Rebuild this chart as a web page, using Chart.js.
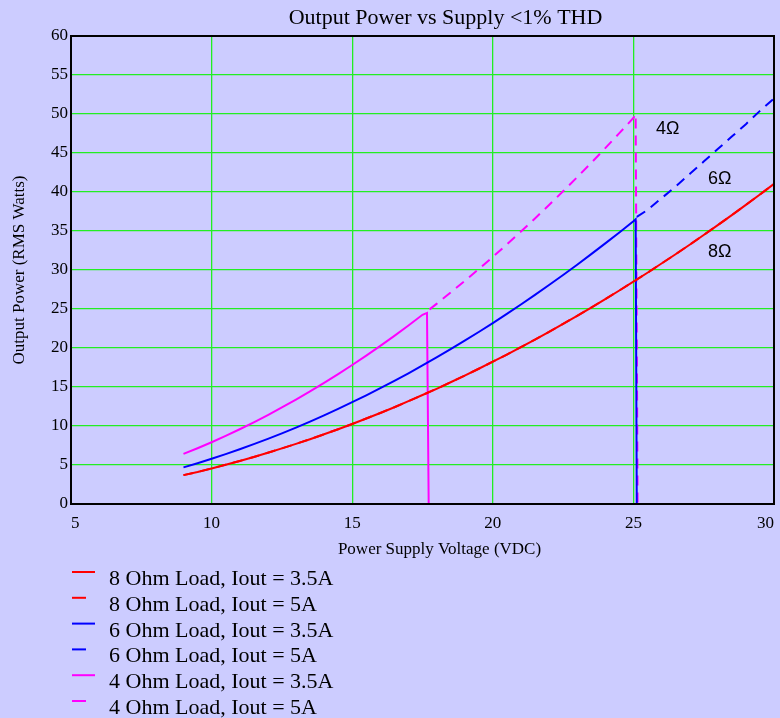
<!DOCTYPE html>
<html>
<head>
<meta charset="utf-8">
<script src="https://cdn.jsdelivr.net/npm/chart.js@4.4.1/dist/chart.umd.min.js"></script>
<style>
  html, body { margin: 0; padding: 0; background: #ccccff; }
  #wrap { width: 780px; height: 718px; }
</style>
</head>
<body>
<div id="wrap"><canvas id="chart" width="780" height="718"></canvas></div>
<script>
// supply voltage (VDC) and output power (W RMS) per load / current limit
const volts8 = [9, 9.5, 10, 10.5, 11, 11.5, 12, 12.5, 13, 13.5, 14, 14.5, 15, 15.5, 16, 16.5, 17, 17.5, 18, 18.5, 19, 19.5,
  20, 20.5, 21, 21.5, 22, 22.5, 23, 23.5, 24, 24.5, 25, 25.5, 26, 26.5, 27, 27.5, 28, 28.5, 29, 29.5, 30];
const watts8 = [3.7, 4.1, 4.56, 5.03, 5.52, 6.03, 6.57, 7.13, 7.71, 8.31, 8.94, 9.59, 10.26, 10.96, 11.67, 12.41, 13.18, 13.97, 14.77, 15.61, 16.46, 17.34,
  18.24, 19.16, 20.11, 21.08, 22.07, 23.09, 24.12, 25.18, 26.27, 27.37, 28.5, 29.65, 30.83, 32.02, 33.24, 34.49, 35.75, 37.04, 38.35, 39.68, 41.04];

const volts6a = [9, 9.5, 10, 10.5, 11, 11.5, 12, 12.5, 13, 13.5, 14, 14.5, 15, 15.5, 16, 16.5, 17, 17.5, 18, 18.5, 19, 19.5,
  20, 20.5, 21, 21.5, 22, 22.5, 23, 23.5, 24, 24.5, 25, 25.08, 25.12];
const watts6a = [4.7, 5.23, 5.8, 6.39, 7.02, 7.67, 8.35, 9.06, 9.8, 10.57, 11.37, 12.19, 13.05, 13.93, 14.85, 15.79, 16.76, 17.76, 18.79, 19.85, 20.94, 22.05,
  23.2, 24.37, 25.58, 26.81, 28.07, 29.36, 30.68, 32.03, 33.41, 34.81, 36.25, 36.5, 0];
const volts6b = [25.12, 25.5, 26, 26.5, 27, 27.5, 28, 28.5, 29, 29.5, 30];
const watts6b = [36.8, 37.7, 39.2, 40.7, 42.3, 43.9, 45.5, 47.1, 48.7, 50.4, 52.0];

const volts4a = [9, 9.5, 10, 10.5, 11, 11.5, 12, 12.5, 13, 13.5, 14, 14.5, 15, 15.5, 16, 16.5, 17, 17.5, 17.66, 17.72];
const watts4a = [6.42, 7.15, 7.92, 8.73, 9.58, 10.47, 11.4, 12.38, 13.38, 14.43, 15.52, 16.65, 17.82, 19.03, 20.28, 21.56, 22.89, 24.26, 24.5, 0];
const volts4b = [17.75, 18, 18.5, 19, 19.5, 20, 20.5, 21, 21.5, 22, 22.5, 23, 23.5, 24, 24.5, 25, 25.08, 25.15];
const watts4b = [24.95, 25.66, 27.11, 28.59, 30.12, 31.68, 33.28, 34.93, 36.61, 38.33, 40.1, 41.9, 43.74, 45.62, 47.54, 49.5, 50.0, 0];

const seriesLabels = [
  '8 Ohm Load, Iout = 3.5A',
  '8 Ohm Load, Iout = 5A',
  '6 Ohm Load, Iout = 3.5A',
  '6 Ohm Load, Iout = 5A',
  '4 Ohm Load, Iout = 3.5A',
  '4 Ohm Load, Iout = 5A'
];

const xTicks = [5, 10, 15, 20, 25, 30];
const yTicks = [0, 5, 10, 15, 20, 25, 30, 35, 40, 45, 50, 55, 60];

// load annotations, placed in data units
const loadTags = [
  { text: '4Ω', x: 25.8, y: 48.1 },
  { text: '6Ω', x: 27.65, y: 41.7 },
  { text: '8Ω', x: 27.65, y: 32.3 }
];

const SERIF = '"Liberation Serif", "Times New Roman", serif';
const SANS = '"Liberation Sans", Arial, sans-serif';
const DASH = [10, 7];

const pts = (xs, ys) => xs.map((x, i) => ({ x, y: ys[i] }));

function series(label, xs, ys, color, dashed) {
  return {
    label,
    data: pts(xs, ys),
    borderColor: color,
    backgroundColor: color,
    borderWidth: 2,
    borderDash: dashed ? DASH : [],
    pointRadius: 0,
    tension: 0,
    fill: false,
    dashed
  };
}

const decorations = {
  id: 'decorations',
  afterDatasetsDraw(chart) {
    const { ctx, chartArea: a, scales } = chart;
    ctx.save();
    // plot frame
    ctx.strokeStyle = '#000';
    ctx.lineWidth = 2;
    ctx.strokeRect(a.left, a.top, a.right - a.left, a.bottom - a.top);

    // load tags
    ctx.fillStyle = '#000';
    ctx.font = '18px ' + SANS;
    ctx.textAlign = 'left';
    ctx.textBaseline = 'middle';
    loadTags.forEach(t => {
      ctx.fillText(t.text, scales.x.getPixelForValue(t.x), scales.y.getPixelForValue(t.y));
    });
    ctx.restore();
  },
  afterDraw(chart) {
    const { ctx, chartArea: a } = chart;
    const mid = (a.left + a.right) / 2;
    ctx.save();
    ctx.fillStyle = '#000';
    ctx.textAlign = 'center';
    ctx.textBaseline = 'middle';

    ctx.font = '22px ' + SERIF;
    ctx.fillText('Output Power vs Supply <1% THD', mid + 23, 18);

    ctx.font = '17px ' + SERIF;
    ctx.fillText('Power Supply Voltage (VDC)', mid + 17, a.bottom + 46);

    ctx.translate(20, (a.top + a.bottom) / 2);
    ctx.rotate(-Math.PI / 2);
    ctx.fillText('Output Power (RMS Watts)', 0, 0);
    ctx.setTransform(1, 0, 0, 1, 0, 0);

    // legend list under the axis title
    ctx.textAlign = 'left';
    ctx.textBaseline = 'alphabetic';
    ctx.font = '22px ' + SERIF;
    chart.data.datasets.forEach((ds, i) => {
      const y = 572 + i * 25.8;
      ctx.strokeStyle = ds.borderColor;
      ctx.lineWidth = 2;
      ctx.beginPath();
      ctx.moveTo(72, y);
      ctx.lineTo(ds.dashed ? 86 : 95, y);
      ctx.stroke();
      ctx.fillStyle = '#000';
      ctx.fillText(ds.label, 109, y + 13);
    });
    ctx.restore();
  }
};

new Chart(document.getElementById('chart'), {
  type: 'line',
  data: {
    datasets: [
      series(seriesLabels[0], volts8, watts8, '#ff0000', false),
      series(seriesLabels[1], volts8, watts8, '#ff0000', true),
      series(seriesLabels[2], volts6a, watts6a, '#0000ff', false),
      series(seriesLabels[3], volts6b, watts6b, '#0000ff', true),
      series(seriesLabels[4], volts4a, watts4a, '#ff00ff', false),
      series(seriesLabels[5], volts4b, watts4b, '#ff00ff', true)
    ]
  },
  options: {
    responsive: false,
    animation: false,
    layout: { padding: { top: 36, right: 6, bottom: 188, left: 0 } },
    plugins: { legend: { display: false }, tooltip: { enabled: false } },
    scales: {
      x: {
        type: 'linear',
        min: xTicks[0],
        max: xTicks[xTicks.length - 1],
        afterBuildTicks: s => { s.ticks = xTicks.map(v => ({ value: v })); },
        afterFit: s => { s.height = 26; s.paddingLeft = 0; s.paddingRight = 0; },
        grid: { color: '#22ee22', lineWidth: 1.3, drawTicks: false },
        border: { color: '#000', width: 2 },
        ticks: { color: '#000', font: { family: SERIF, size: 17 }, padding: 9, align: 'inner' }
      },
      y: {
        min: yTicks[0],
        max: yTicks[yTicks.length - 1],
        afterBuildTicks: s => { s.ticks = yTicks.map(v => ({ value: v })); },
        afterFit: s => { s.width = 71; },
        grid: { color: '#22ee22', lineWidth: 1.3, drawTicks: false },
        border: { color: '#000', width: 2 },
        ticks: { color: '#000', font: { family: SERIF, size: 17 }, padding: 3 }
      }
    }
  },
  plugins: [decorations]
});
</script>
</body>
</html>
